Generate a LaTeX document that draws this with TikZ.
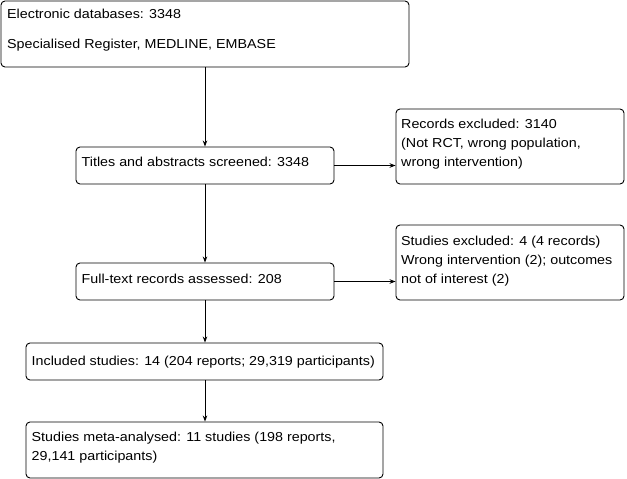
\documentclass[tikz,border=0pt]{standalone}
\usepackage{fontspec}
\setmainfont[FakeStretch=1.1]{Liberation Sans}
\usetikzlibrary{arrows.meta}
\begin{document}
\begin{tikzpicture}[x=1pt,y=-1pt,
  box/.style={draw=black,line width=0.9pt,rounded corners=4pt,inner sep=0pt,fill=white},
  txt/.style={anchor=base west,inner sep=0pt,font=\fontsize{13}{19}\selectfont,align=left},
  arr/.style={draw=black,line width=0.9pt,-{Stealth[length=6pt,width=4.5pt]}}]
\useasboundingbox[fill=white] (0,0) rectangle (627,479);
% boxes
\node[box,minimum width=408pt,minimum height=66pt] (b1) at (205,34) {};
\node[box,minimum width=258pt,minimum height=37pt] (b2) at (205,165.5) {};
\node[box,minimum width=228pt,minimum height=75pt] (b3) at (510,146.5) {};
\node[box,minimum width=258pt,minimum height=37pt] (b4) at (205,281.5) {};
\node[box,minimum width=228pt,minimum height=75pt] (b5) at (510,262.5) {};
\node[box,minimum width=357pt,minimum height=37pt] (b6) at (204.5,361.5) {};
\node[box,minimum width=357pt,minimum height=56pt] (b7) at (204.5,450) {};
% texts (multi-line nodes: base is the last line)
\node[txt] (t1a) at (7,19) {Electronic databases: 3348};
\node[txt] (t1b) at (7,48.5) {Specialised Register, MEDLINE, EMBASE};
\node[txt] (t2) at (81.5,166) {Titles and abstracts screened: 3348};
\node[txt] (t3) at (401,166) {Records excluded: 3140\\(Not RCT, wrong population,\\wrong intervention)};
\node[txt] (t4) at (81.5,283) {Full-text records assessed: 208};
\node[txt] (t5) at (401,283) {Studies excluded: 4 (4 records)\\Wrong intervention (2); outcomes\\not of interest (2)};
\node[txt] (t6) at (31.5,365) {Included studies: 14 (204 reports; 29,319 participants)};
\node[txt] (t7) at (31.5,460.5) {Studies meta-analysed: 11 studies (198 reports,\\29,141 participants)};
% connectors
\draw[arr] (b1.south) -- (b2.north);
\draw[arr] (b2.east) -- (b2.east -| b3.west);
\draw[arr] (b2.south) -- (b4.north);
\draw[arr] (b4.east) -- (b4.east -| b5.west);
\draw[arr] (b4.south) -- (b6.north -| b4.south);
\draw[arr] (b6.south -| b4.south) -- (b7.north -| b4.south);
\end{tikzpicture}
\end{document}
